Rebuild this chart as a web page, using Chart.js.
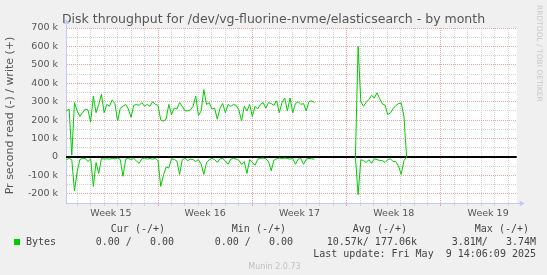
<!DOCTYPE html>
<html>
<head>
<meta charset="utf-8">
<script src="https://cdn.jsdelivr.net/npm/chart.js@4/dist/chart.umd.min.js"></script>
<style>
  html, body { margin: 0; padding: 0; background: #f0f0f0; }
  canvas { display: block; }
</style>
</head>
<body>
<canvas id="chart" width="547" height="275"></canvas>
<script>
// Munin month graph: values in kB/s, x axis in days from the start of week 15
const stepDays = 0.2;
const firstDayA = 0.2;
const firstDayB = 21.65;
const gapDay = 20;

// first run of samples (week 15 .. week 17)
const writeA = [
  250, 260, 10, 295, 250, 220, 240, 260, 255, 190, 330, 240, 285, 340, 240, 285,
  275, 310, 290, 195, 265, 275, 285, 260, 215, 280, 285, 280, 295, 275, 285,
  275, 300, 285, 280, 200, 195, 205, 285, 230, 265, 260, 295, 275, 250, 250,
  255, 275, 330, 225, 250, 365, 285, 295, 260, 265, 205, 265, 290, 240, 285, 275,
  285, 280, 255, 195, 275, 250, 285, 220, 275, 260, 285, 295, 265, 295, 290,
  280, 305, 240, 295, 320, 250, 320, 240, 290, 300, 285, 290, 250, 300, 305, 295
];
const readA = [
  15, 8, 15, 185, 80, 14, 8, 8, 25, 10, 160, 30, 90, 8, 12, 10, 12, 8, 10, 6,
  14, 105, 12, 8, 14, 8, 22, 35, 10, 6, 12,
  8, 12, 8, 20, 160, 100, 55, 60, 10, 14, 22, 95, 14, 8, 20, 12, 14, 25, 14, 40,
  95, 30, 16, 8, 14, 30, 10, 8, 22, 40, 12,
  8, 12, 18, 40, 25, 90, 14, 30, 45, 12, 8, 6, 10, 25, 75, 18, 10, 6, 8, 6,
  8, 12, 8, 40, 12, 8, 40, 12, 8, 10, 12
];
// second run of samples (week 18)
const writeB = [0, 600, 300, 275, 297, 311, 335, 320, 348, 317, 288, 281, 230, 239, 263, 279, 290, 293, 220, 0];
const readB = [0, 205, 15, 20, 30, 15, 35, 10, 14, 20, 20, 30, 14, 10, 25, 25, 50, 95, 20, 0];

const weekLabels = ['Week 15', 'Week 16', 'Week 17', 'Week 18', 'Week 19'];
const legendHeads = ['Cur (-/+)', 'Min (-/+)', 'Avg (-/+)', 'Max (-/+)'];
const legendValues = ['0.00 /   0.00', '0.00 /   0.00', '10.57k/ 177.06k', '3.81M/   3.74M'];
const lastUpdate = 'Last update: Fri May  9 14:06:09 2025';

const green = '#00cc00';
const majorGrid = '#e9a5a5';
const minorGrid = '#d2d2d2';
const axisColor = '#c4cbf2';
const textColor = '#555';

function toPoints(a, b, sign) {
    const pts = a.map((v, i) => ({ x: firstDayA + i * stepDays, y: sign * v }));
    pts.push({ x: gapDay, y: null });
    b.forEach((v, i) => pts.push({ x: firstDayB + i * stepDays, y: sign * v }));
    return pts;
}

const muninDecor = {
    id: 'muninDecor',
    beforeDraw(chart) {
        const { ctx, chartArea: a } = chart;
        ctx.save();
        ctx.fillStyle = '#f0f0f0';
        ctx.fillRect(0, 0, chart.width, chart.height);
        ctx.fillStyle = '#ffffff';
        ctx.fillRect(a.left, a.top, a.right - a.left, a.bottom - a.top);
        ctx.restore();
    },
    beforeDatasetsDraw(chart) {
        const { ctx, chartArea: a } = chart;
        const y0 = Math.round(chart.scales.y.getPixelForValue(0));
        ctx.save();
        ctx.fillStyle = '#000';
        ctx.fillRect(a.left, y0 - 1, a.right - a.left, 2);
        ctx.restore();
    },
    afterDraw(chart) {
        const { ctx, chartArea: a } = chart;
        ctx.save();
        // axis arrows
        ctx.strokeStyle = axisColor;
        ctx.fillStyle = axisColor;
        ctx.lineWidth = 1;
        ctx.beginPath();
        ctx.moveTo(a.left + 0.5, a.top);
        ctx.lineTo(a.left + 0.5, a.top - 5);
        ctx.moveTo(a.right, a.bottom + 0.5);
        ctx.lineTo(a.right + 4, a.bottom + 0.5);
        ctx.stroke();
        ctx.beginPath();
        ctx.moveTo(a.left - 2.5, a.top - 4);
        ctx.lineTo(a.left + 3.5, a.top - 4);
        ctx.lineTo(a.left + 0.5, a.top - 9);
        ctx.closePath();
        ctx.fill();
        ctx.beginPath();
        ctx.moveTo(a.right + 3, a.bottom - 2.5);
        ctx.lineTo(a.right + 3, a.bottom + 3.5);
        ctx.lineTo(a.right + 8, a.bottom + 0.5);
        ctx.closePath();
        ctx.fill();

        // legend table
        ctx.font = '10px "DejaVu Sans Mono", monospace';
        ctx.fillStyle = '#444';
        ctx.textBaseline = 'middle';
        ctx.textAlign = 'right';
        const headEnds = [165, 286, 407, 529];
        const valueEnds = [174, 293, 417, 536];
        legendHeads.forEach((t, i) => ctx.fillText(t, headEnds[i], 229));
        legendValues.forEach((t, i) => ctx.fillText(t, valueEnds[i], 242));
        ctx.fillText(lastUpdate, 536, 254.5);
        ctx.textAlign = 'left';
        ctx.fillText('Bytes', 26, 242);
        ctx.fillStyle = green;
        ctx.fillRect(14, 239, 6, 6);

        ctx.font = '8px "DejaVu Sans", sans-serif';
        ctx.fillStyle = '#c0c0c0';
        ctx.textAlign = 'center';
        ctx.fillText('Munin 2.0.73', 274.5, 267);

        ctx.translate(539, 5);
        ctx.rotate(Math.PI / 2);
        ctx.font = '7.5px "DejaVu Sans", sans-serif';
        ctx.fillStyle = '#c8c8c8';
        ctx.textAlign = 'left';
        ctx.fillText('RRDTOOL / TOBI OETIKER', 0, 0);
        ctx.restore();
    }
};

new Chart(document.getElementById('chart'), {
    type: 'line',
    data: {
        datasets: [
            {
                label: 'write',
                data: toPoints(writeA, writeB, 1),
                borderColor: green,
                borderWidth: 1,
                pointRadius: 0,
                tension: 0,
                spanGaps: false
            },
            {
                label: 'read',
                data: toPoints(readA, readB, -1),
                borderColor: green,
                borderWidth: 1,
                pointRadius: 0,
                tension: 0,
                spanGaps: false
            }
        ]
    },
    options: {
        responsive: false,
        animation: false,
        devicePixelRatio: 1,
        layout: { padding: { left: 0, right: 0, top: 0, bottom: 52 } },
        plugins: {
            legend: { display: false },
            tooltip: { enabled: false },
            title: {
                display: true,
                text: 'Disk throughput for /dev/vg-fluorine-nvme/elasticsearch - by month',
                color: textColor,
                font: { family: '"DejaVu Sans", sans-serif', size: 12.5, weight: 'normal' },
                padding: { top: 12, bottom: 1 }
            }
        },
        scales: {
            x: {
                type: 'linear',
                min: 0.17,
                max: 33.62,
                afterFit: (s) => { s.height = 20; },
                border: { display: true, color: axisColor, width: 1, dash: [1, 1] },
                grid: {
                    color: (ctx) => {
                        const v = ctx.tick ? ctx.tick.value : NaN;
                        if (!Number.isInteger(v)) return 'rgba(0,0,0,0)';
                        return v % 7 === 0 ? majorGrid : minorGrid;
                    },
                    lineWidth: 1,
                    drawTicks: true,
                    tickLength: 3
                },
                ticks: {
                    stepSize: 0.5,
                    autoSkip: false,
                    maxRotation: 0,
                    minRotation: 0,
                    padding: 2,
                    color: textColor,
                    font: { family: '"DejaVu Sans", sans-serif', size: 9.5 },
                    callback: (v) => {
                        const k = (v - 3.5) / 7;
                        return Number.isInteger(k) && k >= 0 && k < weekLabels.length ? weekLabels[k] : '';
                    }
                }
            },
            y: {
                min: -250,
                max: 700,
                afterFit: (s) => { s.width = 66; },
                border: { display: true, color: axisColor, width: 1, dash: [1, 1] },
                grid: {
                    color: (ctx) => {
                        const v = ctx.tick ? ctx.tick.value : NaN;
                        return v % 100 === 0 ? majorGrid : minorGrid;
                    },
                    lineWidth: 1,
                    drawTicks: false
                },
                ticks: {
                    stepSize: 50,
                    autoSkip: false,
                    padding: 8,
                    color: textColor,
                    font: { family: '"DejaVu Sans", sans-serif', size: 9.5 },
                    callback: (v) => v === 0 ? '0' : (v % 100 === 0 ? v + ' k' : '')
                },
                title: {
                    display: true,
                    text: 'Pr second read (-) / write (+)',
                    color: textColor,
                    font: { family: '"DejaVu Sans", sans-serif', size: 11 },
                    padding: { top: 4, bottom: 0 }
                }
            },
            // empty right-hand margin, keeps the plot edge at the reference position
            margin: {
                type: 'linear',
                position: 'right',
                display: true,
                afterFit: (s) => { s.width = 30.3; },
                border: { display: false },
                grid: { display: false, drawOnChartArea: false },
                ticks: { display: false }
            }
        }
    },
    plugins: [muninDecor]
});
</script>
</body>
</html>
